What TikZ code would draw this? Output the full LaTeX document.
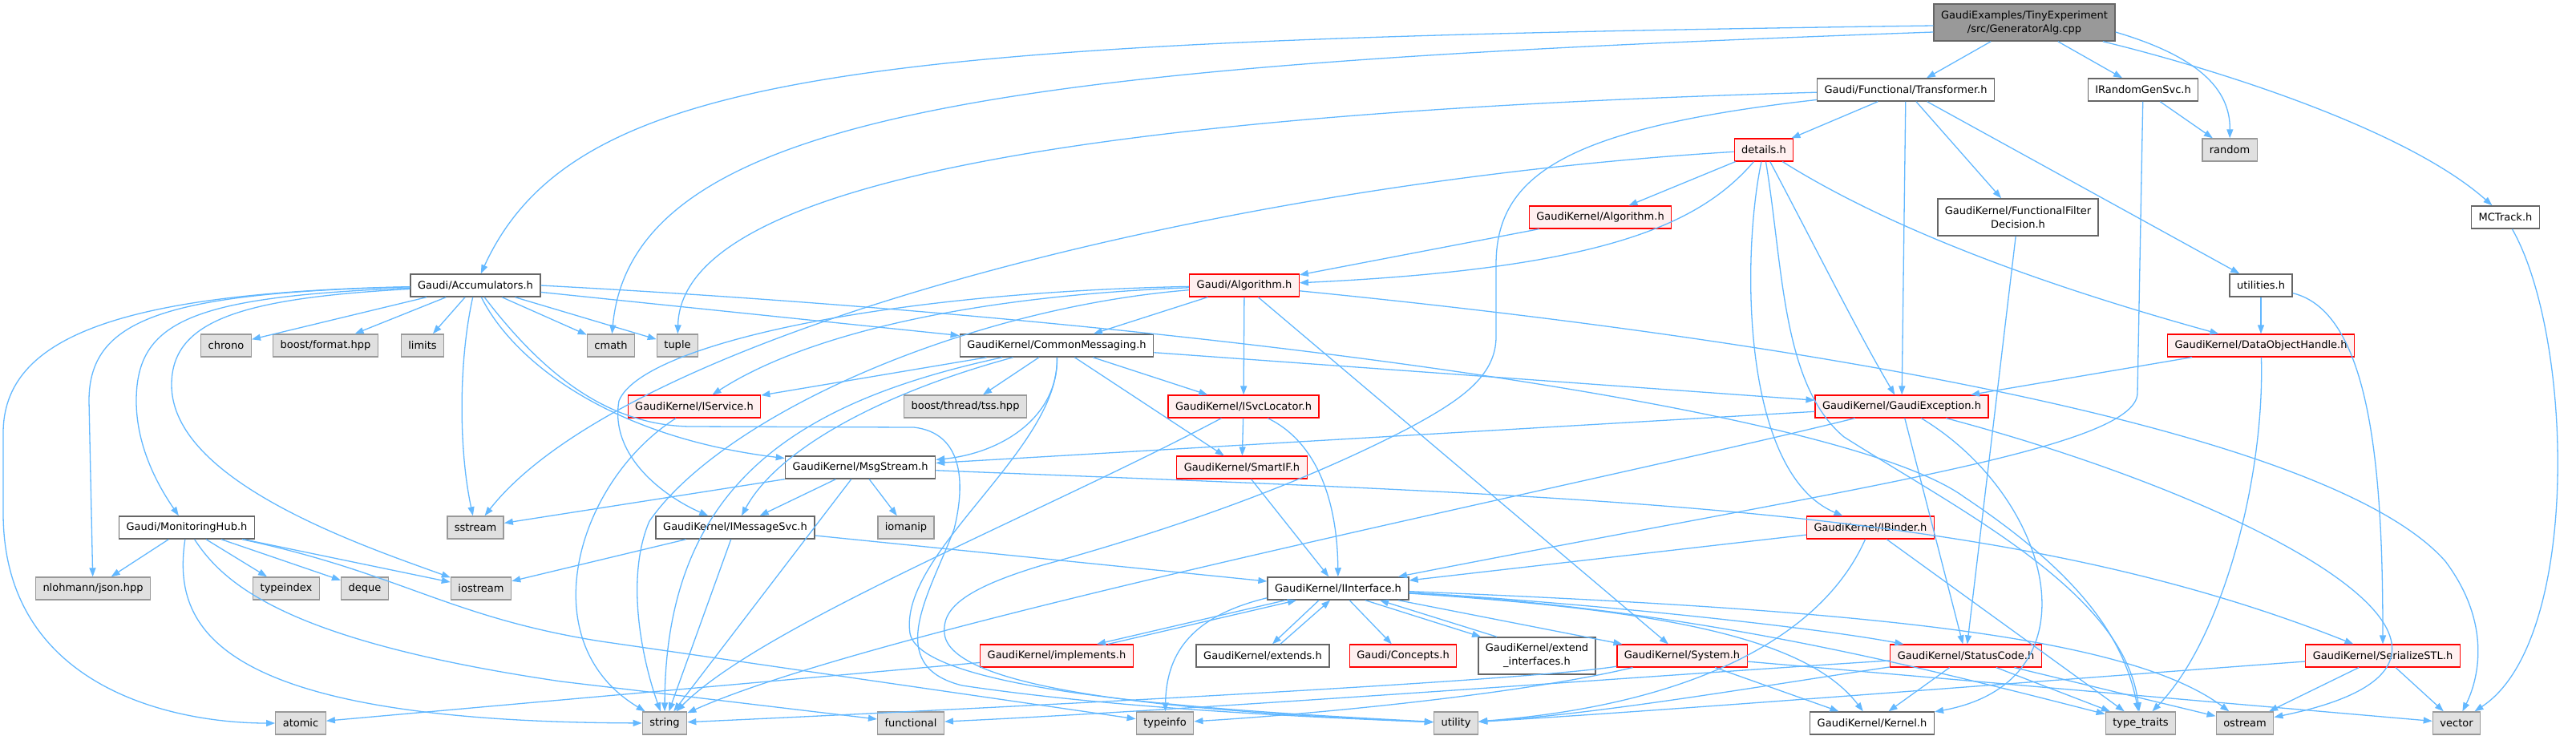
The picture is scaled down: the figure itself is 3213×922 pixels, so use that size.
\documentclass[tikz,border=0pt]{standalone}
\usepackage{fontspec}
\setmainfont{DejaVu Sans}
\usetikzlibrary{arrows.meta}
\usepackage{xcolor}
\definecolor{depblue}{HTML}{63B8FF}
\definecolor{hdrgray}{HTML}{666666}
\definecolor{sysgray}{HTML}{999999}
\definecolor{sysfill}{HTML}{E0E0E0}
\definecolor{truncfill}{HTML}{FFF0F0}
\definecolor{rootfill}{HTML}{999999}
\tikzset{
    hdr/.style={
        draw=hdrgray,line width=1.5pt,fill=white,
        minimum height=28pt,inner xsep=9pt,inner ysep=0pt,
        font=\fontsize{13}{17}\selectfont
    },
    sysbox/.style={hdr,draw=sysgray,line width=1.4pt,fill=sysfill},
    trunc/.style={hdr,draw=red,line width=1.2pt,fill=truncfill},
    rootbox/.style={hdr,fill=rootfill,align=center,minimum height=46pt},
    twoline/.style={hdr,align=center,minimum height=46pt},
    dep/.style={
        -{Triangle[length=11pt,width=8pt]},draw=depblue,line width=1.3pt
    }
}

\begin{document}
\begin{tikzpicture}[x=1pt,y=-1pt]

\useasboundingbox (0,0) rectangle (3213,922);

\node[rootbox] (gen) at (2525,28) {GaudiExamples/TinyExperiment\\/src/GeneratorAlg.cpp};
\node[hdr] (trans) at (2377,112) {Gaudi/Functional/Transformer.h};
\node[hdr] (irand) at (2673,112) {IRandomGenSvc.h};
\node[trunc] (details) at (2200,187) {details.h};
\node[sysbox] (random) at (2781,187) {random};
\node[trunc] (kalg) at (1996,271) {GaudiKernel/Algorithm.h};
\node[twoline] (ffd) at (2517,271) {GaudiKernel/FunctionalFilter\\Decision.h};
\node[hdr] (mctrack) at (3125,271) {MCTrack.h};
\node[hdr] (accum) at (593,356) {Gaudi/Accumulators.h};
\node[trunc] (galg) at (1552,356) {Gaudi/Algorithm.h};
\node[hdr] (util) at (2820,356) {utilities.h};
\node[sysbox] (chrono) at (282,431) {chrono};
\node[sysbox] (bfmt) at (406,431) {boost/format.hpp};
\node[sysbox] (limits) at (527,431) {limits};
\node[sysbox] (cmath) at (762,431) {cmath};
\node[sysbox] (tuple) at (845,431) {tuple};
\node[hdr] (cmsg) at (1318,431) {GaudiKernel/CommonMessaging.h};
\node[trunc] (doh) at (2820,431) {GaudiKernel/DataObjectHandle.h};
\node[trunc] (iservice) at (866,507) {GaudiKernel/IService.h};
\node[sysbox] (tss) at (1204,507) {boost/thread/tss.hpp};
\node[trunc] (isvcloc) at (1551,507) {GaudiKernel/ISvcLocator.h};
\node[trunc] (gexc) at (2372,507) {GaudiKernel/GaudiException.h};
\node[hdr] (msgstream) at (1073,583) {GaudiKernel/MsgStream.h};
\node[trunc] (smartif) at (1549,583) {GaudiKernel/SmartIF.h};
\node[hdr] (monhub) at (233,658) {Gaudi/MonitoringHub.h};
\node[sysbox] (sstream) at (593,658) {sstream};
\node[hdr] (imsgsvc) at (917,658) {GaudiKernel/IMessageSvc.h};
\node[sysbox] (iomanip) at (1130,658) {iomanip};
\node[trunc] (ibinder) at (2333,658) {GaudiKernel/IBinder.h};
\node[sysbox] (json) at (116,734) {nlohmann/json.hpp};
\node[sysbox] (typeindex) at (357,734) {typeindex};
\node[sysbox] (deque) at (455,734) {deque};
\node[sysbox] (iostream) at (600,734) {iostream};
\node[hdr] (iinterface) at (1669,734) {GaudiKernel/IInterface.h};
\node[trunc] (implements) at (1318,818) {GaudiKernel/implements.h};
\node[hdr] (extends) at (1575,818) {GaudiKernel/extends.h};
\node[trunc] (concepts) at (1750,818) {Gaudi/Concepts.h};
\node[twoline] (extendif) at (1917,818) {GaudiKernel/extend\\\_interfaces.h};
\node[trunc] (system) at (2098,818) {GaudiKernel/System.h};
\node[trunc] (statuscode) at (2452,818) {GaudiKernel/StatusCode.h};
\node[trunc] (serial) at (2972,818) {GaudiKernel/SerializeSTL.h};
\node[sysbox] (atomic) at (375,902) {atomic};
\node[sysbox] (string) at (829,902) {string};
\node[sysbox] (functional) at (1136,902) {functional};
\node[sysbox] (typeinfo) at (1453,902) {typeinfo};
\node[sysbox] (utility) at (1816,902) {utility};
\node[hdr] (kernel) at (2335,902) {GaudiKernel/Kernel.h};
\node[sysbox] (typetraits) at (2670,902) {type\_traits};
\node[sysbox] (ostream) at (2800,902) {ostream};
\node[sysbox] (vector) at (3064,902) {vector};

% GeneratorAlg.cpp
\draw[dep] ([yshift=-4pt]gen.west) .. controls (1100,50) and (720,80) .. (accum);
\draw[dep] ([yshift=-12pt]gen.west) .. controls (1300,80) and (790,130) .. (cmath);
\draw[dep] (gen) -- (trans);
\draw[dep] (gen) -- (irand);
\draw[dep] ([yshift=-12pt]gen.east) .. controls (2740,70) and (2782,110) .. (random);
\draw[dep] (gen) .. controls (2760,85) and (3000,160) .. (mctrack);

% Transformer.h
\draw[dep] (trans) -- (details);
\draw[dep] (trans) -- (ffd);
\draw[dep] (trans) -- (util);
\draw[dep] (trans) -- (gexc);
\draw[dep] (trans) .. controls (1400,140) and (850,220) .. (tuple);
\draw[dep] (trans) .. controls (1950,160) and (1866,220) .. (1866,330) -- (1866,420)
    .. controls (1866,470) and (1820,500) .. (1759,533)
    .. controls (1650,590) and (1500,650) .. (1300,705)
    .. controls (1200,735) and (1175,760) .. (1178,790)
    .. controls (1185,870) and (1550,890) .. (utility);

\draw[dep] (irand) -- (random);
\draw[dep] (irand) -- (2666,490) .. controls (2666,560) and (2300,610) .. (iinterface);

% details.h
\draw[dep] (details) .. controls (1500,230) and (780,420) .. (sstream);
\draw[dep] (details) -- (kalg);
\draw[dep] (details) .. controls (2120,280) and (2000,335) .. (galg);
\draw[dep] (details) .. controls (2172,320) and (2172,590) .. (ibinder);
\draw[dep] (details) .. controls (2224,330) and (2222,480) .. (2300,545)
    .. controls (2450,640) and (2650,740) .. (typetraits);
\draw[dep] (details) .. controls (2260,300) and (2320,420) .. (gexc);
\draw[dep] (details) .. controls (2380,300) and (2600,370) .. (doh);

\draw[dep] (kalg) -- (galg);
\draw[dep] (ffd) -- (statuscode);
\draw[dep] (util) -- (doh);
\draw[dep] (util) .. controls (2960,390) and (2972,600) .. (serial);
\draw[dep] (mctrack) .. controls (3210,420) and (3220,800) .. (vector);

% Accumulators.h
\draw[dep] (accum) .. controls (150,365) and (4,420) .. (4,540) -- (4,640)
    .. controls (4,860) and (220,902) .. (atomic);
\draw[dep] (accum) .. controls (200,365) and (111,400) .. (111,500) -- (json);
\draw[dep] (accum) .. controls (240,370) and (170,400) .. (170,500)
    .. controls (170,560) and (200,610) .. (monhub);
\draw[dep] (accum) .. controls (300,372) and (214,400) .. (214,480)
    .. controls (214,600) and (450,680) .. (iostream);
\draw[dep] (accum) -- (chrono);
\draw[dep] (accum) -- (bfmt);
\draw[dep] (accum) -- (limits);
\draw[dep] (accum) .. controls (572,450) and (572,560) .. (sstream);
\draw[dep] (accum) .. controls (640,450) and (760,545) .. (msgstream);
\draw[dep] (accum) .. controls (680,470) and (760,530) .. (860,532) -- (1140,533)
    .. controls (1200,540) and (1205,600) .. (1190,660)
    .. controls (1160,740) and (1100,830) .. (1200,855)
    .. controls (1400,885) and (1650,895) .. (utility);
\draw[dep] (accum) -- (cmath);
\draw[dep] (accum) -- (tuple);
\draw[dep] (accum) -- (cmsg);
\draw[dep] (accum.east) .. controls (1500,400) and (2300,510) .. (2450,620)
    .. controls (2600,720) and (2650,800) .. (typetraits);

% Gaudi/Algorithm.h
\draw[dep] (galg) -- (cmsg);
\draw[dep] (galg) .. controls (1200,370) and (1000,420) .. (iservice);
\draw[dep] (galg) .. controls (1100,365) and (800,430) .. (772,500)
    .. controls (760,570) and (830,620) .. (imsgsvc);
\draw[dep] (galg) .. controls (1200,385) and (900,520) .. (810,650)
    .. controls (780,720) and (800,820) .. (string);
\draw[dep] (galg) -- (isvcloc);
\draw[dep] (galg) -- (system);
\draw[dep] (galg) .. controls (2200,420) and (2900,530) .. (3050,700)
    .. controls (3110,780) and (3090,850) .. (vector);

% CommonMessaging.h
\draw[dep] (cmsg) -- (iservice);
\draw[dep] (cmsg) .. controls (1000,500) and (830,600) .. (string);
\draw[dep] (cmsg) .. controls (1100,490) and (970,560) .. (imsgsvc);
\draw[dep] (cmsg) -- (tss);
\draw[dep] (cmsg) .. controls (1320,520) and (1250,565) .. (msgstream);
\draw[dep] (cmsg) .. controls (1322,560) and (1120,690) .. (1135,790)
    .. controls (1150,870) and (1600,890) .. (utility);
\draw[dep] (cmsg) -- (smartif);
\draw[dep] (cmsg) -- (isvcloc);
\draw[dep] (cmsg) -- (gexc);

\draw[dep] (doh) -- (gexc);
\draw[dep] (doh) .. controls (2825,600) and (2770,800) .. (typetraits);
\draw[dep] (iservice) .. controls (720,600) and (660,800) .. (string);

\draw[dep] (isvcloc) -- (smartif);
\draw[dep] (isvcloc) .. controls (1640,550) and (1668,620) .. (iinterface);
\draw[dep] (isvcloc) .. controls (1300,640) and (950,780) .. (string);

% GaudiException.h
\draw[dep] (gexc) -- (msgstream);
\draw[dep] (gexc) .. controls (2000,600) and (1100,780) .. (string);
\draw[dep] (gexc) -- (statuscode);
\draw[dep] (gexc) .. controls (2560,620) and (2620,850) .. (kernel);
\draw[dep] (gexc) .. controls (2800,620) and (3200,820) .. (ostream);

% MsgStream.h
\draw[dep] (msgstream) -- (sstream);
\draw[dep] (msgstream) -- (imsgsvc);
\draw[dep] (msgstream) -- (string);
\draw[dep] (msgstream) -- (iomanip);
\draw[dep] (msgstream) .. controls (2000,620) and (2500,630) .. (serial);

\draw[dep] (smartif) -- (iinterface);

% MonitoringHub.h
\draw[dep] (monhub) -- (json);
\draw[dep] (monhub) -- (typeindex);
\draw[dep] (monhub) -- (deque);
\draw[dep] (monhub) -- (iostream);
\draw[dep] (monhub) .. controls (500,715) and (560,770) .. (750,800) -- (typeinfo);
\draw[dep] (monhub) .. controls (280,730) and (360,800) .. (700,850) -- (functional);
\draw[dep] (monhub) .. controls (215,780) and (260,900) .. (string);

\draw[dep] (imsgsvc) -- (iostream);
\draw[dep] (imsgsvc) -- (string);
\draw[dep] (imsgsvc) -- (iinterface);

\draw[dep] (ibinder) -- (iinterface);
\draw[dep] (ibinder) .. controls (2270,800) and (2100,880) .. (utility);
\draw[dep] (ibinder) -- (typetraits);

% IInterface.h
\draw[dep] ([xshift=-66pt]iinterface.south) -- ([xshift=50pt]implements.north);
\draw[dep] ([xshift=64pt]implements.north) -- ([xshift=-52pt]iinterface.south);
\draw[dep] ([xshift=-24pt]iinterface.south) -- ([xshift=12pt]extends.north);
\draw[dep] ([xshift=22pt]extends.north) -- ([xshift=-10pt]iinterface.south);
\draw[dep] ([xshift=34pt]iinterface.south) -- ([xshift=4pt]extendif.north west);
\draw[dep] ([xshift=24pt]extendif.north west) -- ([xshift=52pt]iinterface.south);
\draw[dep] (iinterface) -- (concepts);
\draw[dep] ([yshift=3pt]iinterface.south west) .. controls (1480,770) and (1455,820) .. (typeinfo);
\draw[dep] (iinterface) -- (system);
\draw[dep] (iinterface) .. controls (1950,750) and (2250,780) .. (statuscode);
\draw[dep] (iinterface) .. controls (2050,760) and (2250,790) .. (kernel);
\draw[dep] (iinterface) .. controls (2100,760) and (2350,820) .. (typetraits);
\draw[dep] (iinterface) .. controls (2300,760) and (2650,790) .. (ostream);

\draw[dep] (implements) -- (atomic);

% System.h
\draw[dep] (system) -- (kernel);
\draw[dep] (system) -- (vector);
\draw[dep] (system) .. controls (1900,850) and (1200,885) .. (string);
\draw[dep] (system) .. controls (1900,865) and (1650,890) .. (typeinfo);

% StatusCode.h
\draw[dep] (statuscode) -- (kernel);
\draw[dep] (statuscode) -- (typetraits);
\draw[dep] (statuscode) -- (ostream);
\draw[dep] (statuscode) .. controls (2200,855) and (2000,890) .. (utility);
\draw[dep] (statuscode) .. controls (2100,840) and (1500,885) .. (functional);

\draw[dep] (serial) -- (ostream);
\draw[dep] (serial) -- (vector);
\draw[dep] (serial) .. controls (2600,845) and (2100,885) .. (utility);

\end{tikzpicture}
\end{document}
